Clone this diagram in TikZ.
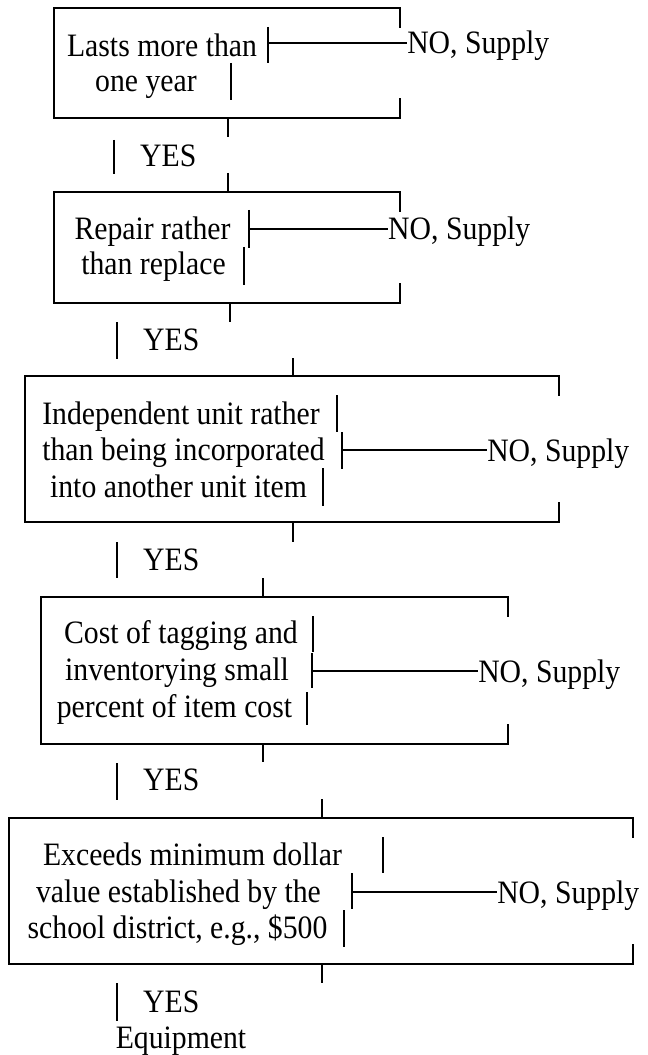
\documentclass[tikz,border=0pt]{standalone}
\usepackage{fontspec}
\setmainfont{Liberation Serif}
\begin{document}
\begin{tikzpicture}[x=0.75pt,y=-0.75pt,
  txt/.style={inner sep=0pt,anchor=base,transform shape,xscale=0.91,font=\fontsize{24.5pt}{29pt}\selectfont},
  lbl/.style={txt,anchor=base west},
  boxline/.style={line width=2.1pt,line join=miter,line cap=rect},
  bar/.style={line width=2.2pt},
  noline/.style={line width=1.6pt}]
\useasboundingbox (0,0) rectangle (647,1055);
\fill[white] (0,0) rectangle (647,1055);

% ---------- Box 1 ----------
\draw[boxline] (400,27) -- (400,8) -- (54,8) -- (54,118) -- (400,118) -- (400,99);
\node[txt] (t1a) at (162,57) {Lasts more than};
\node[txt] (t1b) at (146,92) {one year};
\draw[bar] (268,27) -- (268,63);
\draw[bar] (231,63) -- (231,100);
\coordinate (j1) at (268,43);
\node[lbl] (no1) at (407,54) {NO, Supply};
\draw[noline] (j1) -- (no1.west |- j1);
\draw[bar] (228,118) -- (228,137);
\draw[bar] (114,140) -- (114,174);
\node[lbl] (yes1) at (140,167) {YES};
\draw[bar] (228,173) -- (228,192);

% ---------- Box 2 ----------
\draw[boxline] (400,211) -- (400,192) -- (54,192) -- (54,303) -- (400,303) -- (400,284);
\node[txt] (t2a) at (152.5,240) {Repair rather};
\node[txt] (t2b) at (153.5,275) {than replace};
\draw[bar] (249,210) -- (249,248);
\draw[bar] (244,247) -- (244,285);
\coordinate (j2) at (249,229);
\node[lbl] (no2) at (388,240) {NO, Supply};
\draw[noline] (j2) -- (no2.west |- j2);
\draw[bar] (230,303) -- (230,322);
\draw[bar] (117,322) -- (117,359);
\node[lbl] (yes2) at (143,350) {YES};
\draw[bar] (293,358) -- (293,376);

% ---------- Box 3 ----------
\draw[boxline] (559,395) -- (559,376) -- (25,376) -- (25,522) -- (559,522) -- (559,503);
\node[txt] (t3a) at (181,424) {Independent unit rather};
\node[txt] (t3b) at (183.5,460) {than being incorporated};
\node[txt] (t3c) at (178.5,497) {into another unit item};
\draw[bar] (337,395) -- (337,432);
\draw[bar] (342,432) -- (342,469);
\draw[bar] (323,468) -- (323,506);
\coordinate (j3) at (342,450);
\node[lbl] (no3) at (487,461) {NO, Supply};
\draw[noline] (j3) -- (no3.west |- j3);
\draw[bar] (293,522) -- (293,542);
\draw[bar] (117,542) -- (117,578);
\node[lbl] (yes3) at (143,570) {YES};
\draw[bar] (263,578) -- (263,597);

% ---------- Box 4 ----------
\draw[boxline] (508,616) -- (508,597) -- (41,597) -- (41,744) -- (508,744) -- (508,725);
\node[txt] (t4a) at (181,643) {Cost of tagging and};
\node[txt] (t4b) at (177,680) {inventorying small};
\node[txt] (t4c) at (174.5,717) {percent of item cost};
\draw[bar] (313,616) -- (313,652);
\draw[bar] (312,653) -- (312,688);
\draw[bar] (307,692) -- (307,725);
\coordinate (j4) at (312,671);
\node[lbl] (no4) at (478,682) {NO, Supply};
\draw[noline] (j4) -- (no4.west |- j4);
\draw[bar] (263,744) -- (263,762);
\draw[bar] (117,763) -- (117,800);
\node[lbl] (yes4) at (143,790) {YES};
\draw[bar] (322,799) -- (322,818);

% ---------- Box 5 ----------
\draw[boxline] (633,837) -- (633,818) -- (9,818) -- (9,964) -- (633,964) -- (633,945);
\node[txt] (t5a) at (192.5,865) {Exceeds minimum dollar};
\node[txt] (t5b) at (178.5,902) {value established by the};
\node[txt] (t5c) at (177.5,938) {school district, e.g., \$500};
\draw[bar] (383,837) -- (383,873);
\draw[bar] (352,873) -- (352,909);
\draw[bar] (344,910) -- (344,947);
\coordinate (j5) at (352,892);
\node[lbl] (no5) at (497,903) {NO, Supply};
\draw[noline] (j5) -- (no5.west |- j5);
\draw[bar] (322,964) -- (322,983);
\draw[bar] (117,983) -- (117,1021);
\node[lbl] (yes5) at (143,1012) {YES};
\node[txt] (equip) at (181,1048) {Equipment};
\end{tikzpicture}
\end{document}
